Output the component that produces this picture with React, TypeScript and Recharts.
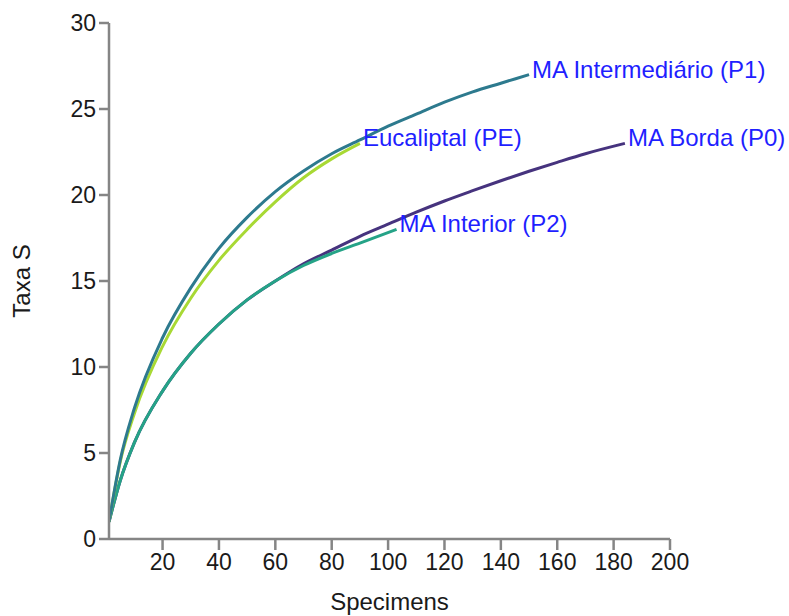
import { CartesianGrid, Label, Line, LineChart, XAxis, YAxis } from "recharts"

// rarefaction curves, values
const specimensP1 = [1, 5, 10, 20, 30, 40, 50, 60, 70, 80, 90, 100, 110, 120, 130, 140, 150]
const taxaP1 = [1, 4.6, 7.6, 11.7, 14.6, 16.9, 18.7, 20.2, 21.4, 22.4, 23.2, 24.0, 24.7, 25.4, 26.0, 26.5, 27.0]

const specimensPE = [1, 5, 10, 20, 30, 40, 50, 60, 70, 80, 90]
const taxaPE = [1, 4.5, 7.3, 11.2, 14.0, 16.2, 18.0, 19.6, 21.0, 22.1, 23.0]

const specimensP0 = [1, 5, 10, 20, 30, 40, 50, 60, 70, 80, 90, 100, 110, 120, 130, 140, 150, 160, 170, 184]
const taxaP0 = [1, 3.4, 5.6, 8.6, 10.8, 12.5, 13.9, 15.0, 16.0, 16.8, 17.6, 18.3, 19.0, 19.65, 20.25, 20.83, 21.38, 21.9, 22.4, 23.0]

const specimensP2 = [1, 5, 10, 20, 30, 40, 50, 60, 70, 80, 90, 103]
const taxaP2 = [1, 3.4, 5.6, 8.6, 10.8, 12.5, 13.9, 15.0, 15.9, 16.6, 17.2, 18.0]

const xTicks = [20, 40, 60, 80, 100, 120, 140, 160, 180, 200]
const yTicks = [0, 5, 10, 15, 20, 25, 30]

const fontFamily = "'Liberation Sans', Arial, sans-serif"
const axisColor = "#858585"

type Point = { n: number; s: number }

function zip(xs: number[], ys: number[]): Point[] {
  return xs.map((n, i) => ({ n, s: ys[i] }))
}

const series = [
  { name: "MA Borda (P0)", color: "#46337e", data: zip(specimensP0, taxaP0) },
  { name: "MA Interior (P2)", color: "#25a387", data: zip(specimensP2, taxaP2) },
  { name: "Eucaliptal (PE)", color: "#a8d934", data: zip(specimensPE, taxaPE) },
  { name: "MA Intermediário (P1)", color: "#2d7a8e", data: zip(specimensP1, taxaP1) },
]

function endLabel(text: string, lastIndex: number) {
  return (props: any) => {
    if (props.index !== lastIndex) return <g />
    return (
      <text
        x={props.x + 3}
        y={props.y + 3}
        fill="#1f1fff"
        fontSize={24}
        fontFamily={fontFamily}
      >
        {text}
      </text>
    )
  }
}

export default function App() {
  return (
    <div style={{ position: "absolute", left: 0, top: 0, width: 789, height: 616, background: "#fff" }}>
      <LineChart
        width={789}
        height={616}
        margin={{ top: 23, right: 119, bottom: 0, left: 0 }}
      >
        <CartesianGrid stroke="none" />
        <XAxis
          type="number"
          dataKey="n"
          domain={[1, 200]}
          ticks={xTicks}
          allowDataOverflow
          height={77}
          tickSize={11}
          tickMargin={4}
          stroke={axisColor}
          strokeWidth={2.5}
          tick={{ fill: "#1a1a1a", fontSize: 23, fontFamily }}
        >
          <Label
            value="Specimens"
            position="insideBottom"
            offset={6}
            style={{ fill: "#1a1a1a", fontSize: 24, fontFamily }}
          />
        </XAxis>
        <YAxis
          type="number"
          dataKey="s"
          domain={[0, 30]}
          ticks={yTicks}
          width={109}
          tickSize={10}
          tickMargin={3}
          stroke={axisColor}
          strokeWidth={2.5}
          tick={{ fill: "#1a1a1a", fontSize: 23, fontFamily }}
        >
          <Label
            value="Taxa S"
            angle={-90}
            position="insideLeft"
            offset={21}
            style={{ fill: "#1a1a1a", fontSize: 24, fontFamily, textAnchor: "middle" }}
          />
        </YAxis>
        {series.map((s) => (
          <Line
            key={s.name}
            data={s.data}
            dataKey="s"
            type="monotone"
            stroke={s.color}
            strokeWidth={3}
            dot={false}
            activeDot={false}
            isAnimationActive={false}
            label={endLabel(s.name, s.data.length - 1)}
          />
        ))}
      </LineChart>
    </div>
  )
}
